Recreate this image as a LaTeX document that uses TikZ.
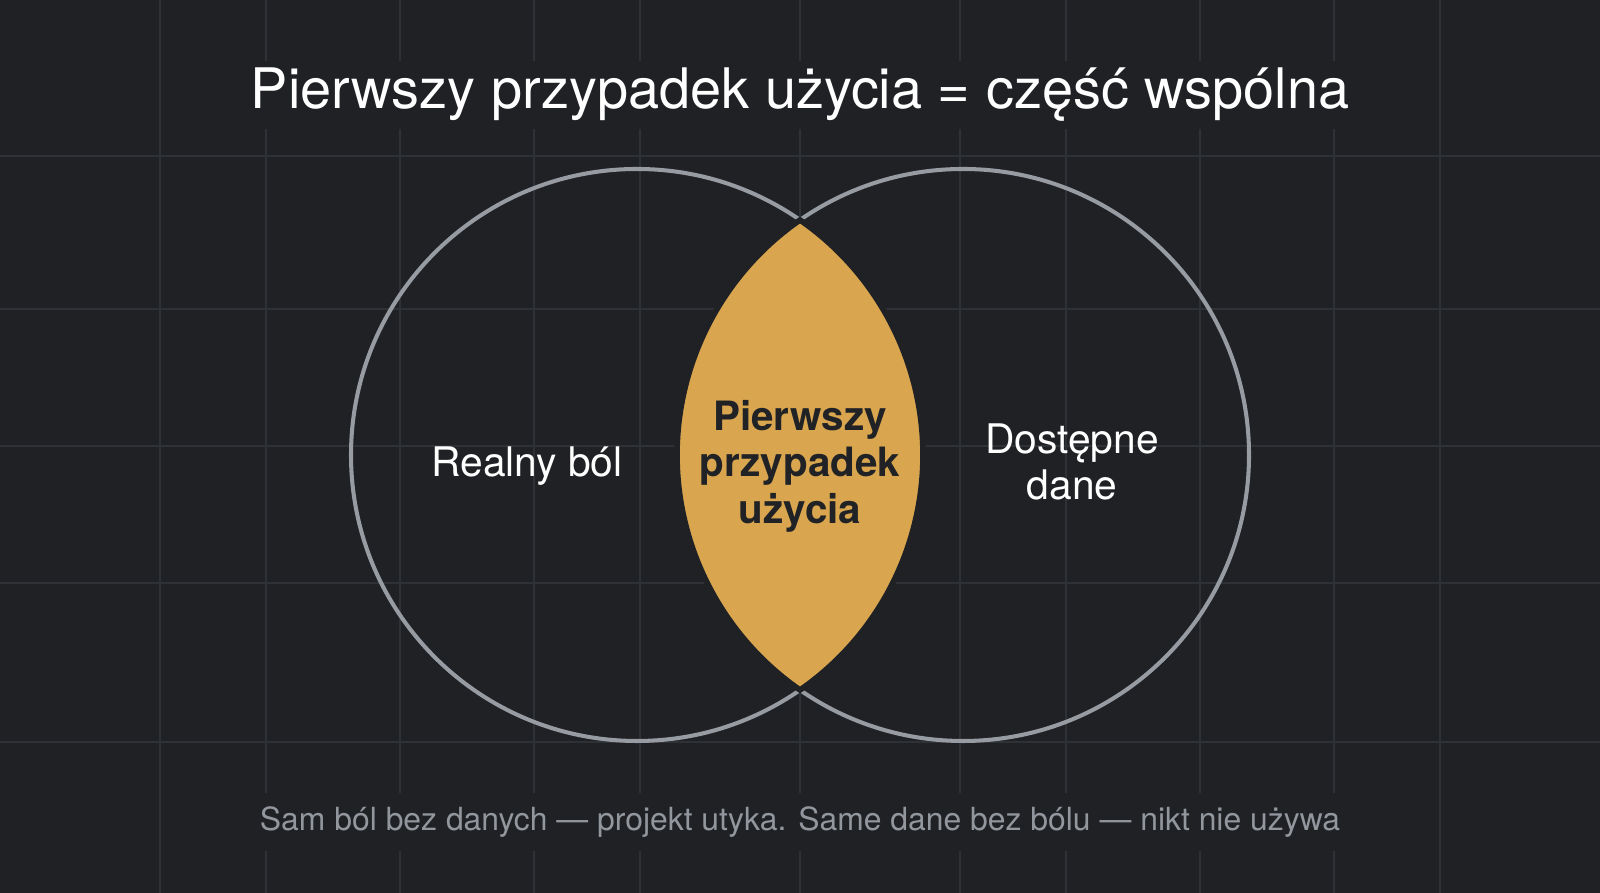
\documentclass[tikz,border=0pt]{standalone}
\usepackage{fontspec}
\setmainfont{TeX Gyre Heros}
\usetikzlibrary{positioning}

\definecolor{bgdark}{HTML}{1F2125}
\definecolor{gridline}{HTML}{2E3136}
\definecolor{ringgray}{HTML}{979BA2}
\definecolor{lensgold}{HTML}{D9A64F}
\definecolor{lenstext}{HTML}{202226}
\definecolor{notegray}{HTML}{92969D}

\begin{document}
\begin{tikzpicture}[
    ring/.style={draw=ringgray, line width=1.15pt},
    setname/.style={text=white, align=center, font=\fontsize{11.6}{13}\selectfont},
    lensname/.style={text=lenstext, align=center, font=\fontsize{11.5}{13.2}\selectfont\bfseries}
  ]
    % background and grid
    \fill[bgdark] (0,0) rectangle (16,8.93);
    \useasboundingbox (0,0) rectangle (16,8.93);
    \foreach \x in {1.60,2.66,4.00,5.34,6.40,8.00,9.60,10.66,12.00,13.34,14.40}
      \draw[gridline, line width=0.35pt] (\x,0) -- (\x,8.93);
    \foreach \y in {7.37,5.84,4.47,3.10,1.51}
      \draw[gridline, line width=0.35pt] (0,\y) -- (16,\y);

    \node[text=white, fill=bgdark, inner sep=2pt, font=\fontsize{15.9}{19}\selectfont] (title) at (8,7.98)
      {Pierwszy przypadek użycia = część wspólna};

    % the two sets
    \coordinate (pain) at (6.37,4.38);
    \coordinate (data) at (9.63,4.38);
    \draw[ring] (pain) circle[radius=2.86];
    \draw[ring] (data) circle[radius=2.86];

    % common part
    \filldraw[fill=lensgold, draw=bgdark, line width=1.6pt]
      ([shift={(124.75:2.86)}]data) arc[start angle=124.75, end angle=235.25, radius=2.86]
      arc[start angle=-55.25, end angle=55.25, radius=2.86] -- cycle;

    \node[setname] (painlabel) at (5.27,4.27) {Realny ból};
    \node[setname] (datalabel) at (10.72,4.31) {Dostępne\\dane};
    \node[lensname] (usecase) at (8,4.27) {Pierwszy\\przypadek\\użycia};

    \node[text=notegray, fill=bgdark, inner sep=4pt, font=\fontsize{9.07}{11}\selectfont] (note) at (8,0.71)
      {Sam ból bez danych — projekt utyka. Same dane bez bólu — nikt nie używa};
  \end{tikzpicture}
\end{document}
